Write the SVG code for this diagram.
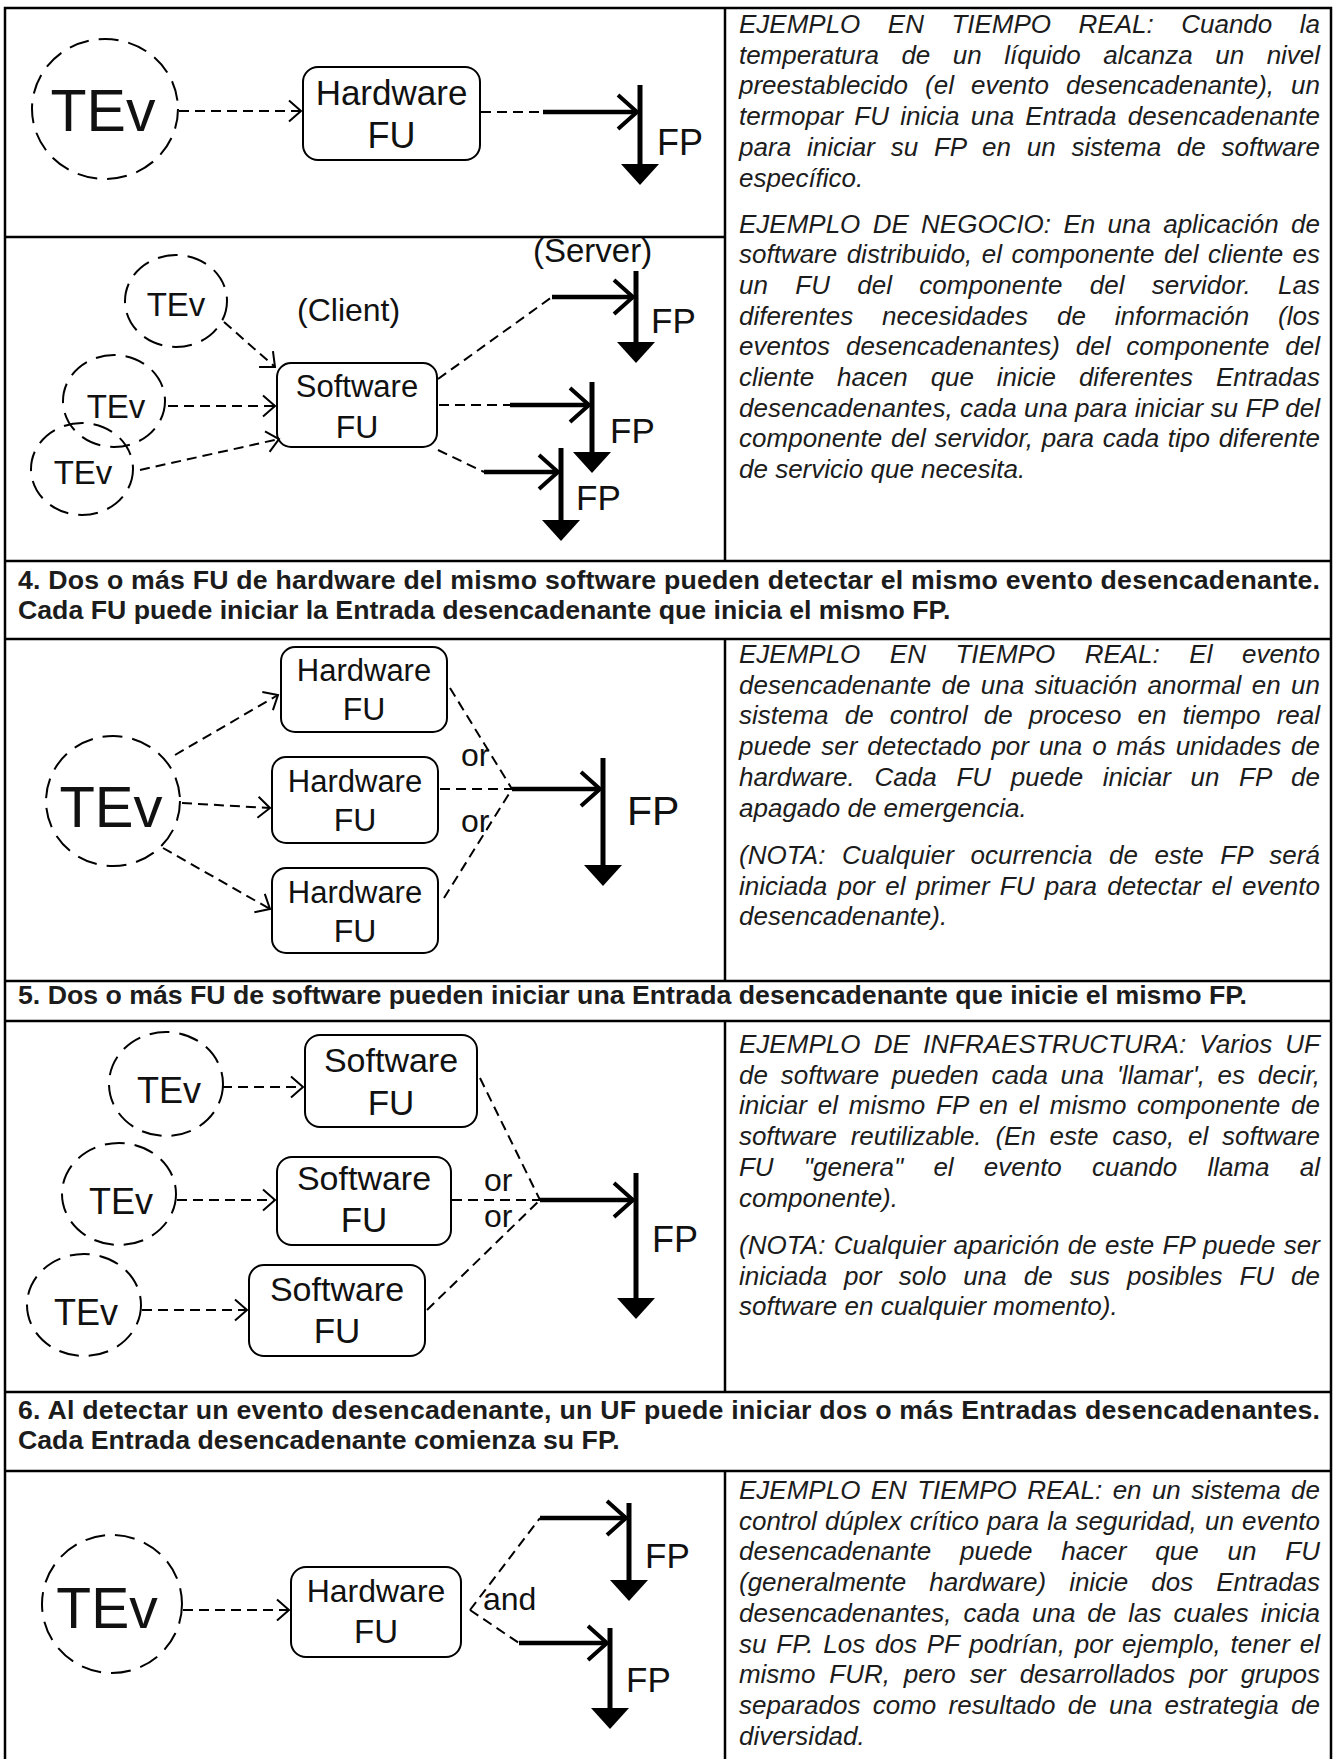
<svg xmlns="http://www.w3.org/2000/svg" width="1334" height="1759" viewBox="0 0 1334 1759">
<style>
  text { font-family: "Liberation Sans", Arial, sans-serif; }
  .frame { fill: none; stroke: #000; stroke-width: 2.5; }
  .para { font-size: 26px; font-style: italic; fill: #1c1c1c; }
  .head { font-size: 26.7px; font-weight: bold; fill: #1c1c1c; }
  .tev { fill: none; stroke: #000; stroke-width: 2; stroke-dasharray: 20 10; }
  .box { fill: #fff; stroke: #000; stroke-width: 2; }
  .lbl { fill: #111; text-anchor: middle; }
  .tag { fill: #111; }
  .dash { fill: none; stroke: #000; stroke-width: 2; stroke-dasharray: 10 6; }
  .arr { marker-end: url(#openHead); }
  .flow { fill: none; stroke: #000; stroke-width: 4.5; marker-end: url(#thickHead); }
  .bar { fill: none; stroke: #000; stroke-width: 5; marker-end: url(#fpTip); }
</style>
<defs>
  <marker id="openHead" markerUnits="userSpaceOnUse" viewBox="0 0 14 24" refX="13" refY="12" markerWidth="14" markerHeight="24" orient="auto" overflow="visible">
    <path d="M1,1.5 L13,12 L1,22.5" fill="none" stroke="#000" stroke-width="2"/>
  </marker>
  <marker id="thickHead" markerUnits="userSpaceOnUse" viewBox="0 0 24 40" refX="21" refY="20" markerWidth="24" markerHeight="40" orient="auto" overflow="visible">
    <path d="M2,3 L21,20 L2,37" fill="none" stroke="#000" stroke-width="4"/>
  </marker>
  <marker id="fpTip" markerUnits="userSpaceOnUse" viewBox="0 0 22 40" refX="0" refY="20" markerWidth="22" markerHeight="40" orient="auto" overflow="visible">
    <path d="M0,1 L21,20 L0,39 Z" fill="#000"/>
  </marker>
</defs>

<rect width="1334" height="1759" fill="#fff"/>

<!-- ===== Right-hand column: examples ===== -->
<g id="text-s1">
  <text class="para" x="739" y="33" word-spacing="20.3" textLength="581" lengthAdjust="spacing">EJEMPLO EN TIEMPO REAL: Cuando la</text>
  <text class="para" x="739" y="63.7" word-spacing="15.4" textLength="581" lengthAdjust="spacing">temperatura de un líquido alcanza un nivel</text>
  <text class="para" x="739" y="94.4" word-spacing="9.8" textLength="581" lengthAdjust="spacing">preestablecido (el evento desencadenante), un</text>
  <text class="para" x="739" y="125.1" word-spacing="4" textLength="581" lengthAdjust="spacing">termopar FU inicia una Entrada desencadenante</text>
  <text class="para" x="739" y="155.8" word-spacing="8.5" textLength="581" lengthAdjust="spacing">para iniciar su FP en un sistema de software</text>
  <text class="para" x="739" y="186.5">específico.</text>
  <text class="para" x="739" y="232.5" word-spacing="5.1" textLength="581" lengthAdjust="spacing">EJEMPLO DE NEGOCIO: En una aplicación de</text>
  <text class="para" x="739" y="263.2" word-spacing="2.2" textLength="581" lengthAdjust="spacing">software distribuido, el componente del cliente es</text>
  <text class="para" x="739" y="293.9" word-spacing="20" textLength="581" lengthAdjust="spacing">un FU del componente del servidor. Las</text>
  <text class="para" x="739" y="324.6" word-spacing="21.7" textLength="581" lengthAdjust="spacing">diferentes necesidades de información (los</text>
  <text class="para" x="739" y="355.3" word-spacing="8.7" textLength="581" lengthAdjust="spacing">eventos desencadenantes) del componente del</text>
  <text class="para" x="739" y="386" word-spacing="15.6" textLength="581" lengthAdjust="spacing">cliente hacen que inicie diferentes Entradas</text>
  <text class="para" x="739" y="416.7" textLength="581" lengthAdjust="spacing">desencadenantes, cada una para iniciar su FP del</text>
  <text class="para" x="739" y="447.4" word-spacing="1.5" textLength="581" lengthAdjust="spacing">componente del servidor, para cada tipo diferente</text>
  <text class="para" x="739" y="478.1">de servicio que necesita.</text>
</g>

<g id="text-s4">
  <text class="para" x="739" y="663" word-spacing="22.3" textLength="581" lengthAdjust="spacing">EJEMPLO EN TIEMPO REAL: El evento</text>
  <text class="para" x="739" y="693.7" word-spacing="3.2" textLength="581" lengthAdjust="spacing">desencadenante de una situación anormal en un</text>
  <text class="para" x="739" y="724.4" word-spacing="8.9" textLength="581" lengthAdjust="spacing">sistema de control de proceso en tiempo real</text>
  <text class="para" x="739" y="755.1" word-spacing="2.7" textLength="581" lengthAdjust="spacing">puede ser detectado por una o más unidades de</text>
  <text class="para" x="739" y="785.8" word-spacing="12.4" textLength="581" lengthAdjust="spacing">hardware. Cada FU puede iniciar un FP de</text>
  <text class="para" x="739" y="816.5">apagado de emergencia.</text>
  <text class="para" x="739" y="864" word-spacing="9.2" textLength="581" lengthAdjust="spacing">(NOTA: Cualquier ocurrencia de este FP será</text>
  <text class="para" x="739" y="894.7" word-spacing="3.1" textLength="581" lengthAdjust="spacing">iniciada por el primer FU para detectar el evento</text>
  <text class="para" x="739" y="925.4">desencadenante).</text>
</g>

<g id="text-s5">
  <text class="para" x="739" y="1053" word-spacing="5.9" textLength="581" lengthAdjust="spacing">EJEMPLO DE INFRAESTRUCTURA: Varios UF</text>
  <text class="para" x="739" y="1083.7" word-spacing="5.4" textLength="581" lengthAdjust="spacing">de software pueden cada una 'llamar', es decir,</text>
  <text class="para" x="739" y="1114.4" word-spacing="3.5" textLength="581" lengthAdjust="spacing">iniciar el mismo FP en el mismo componente de</text>
  <text class="para" x="739" y="1145.1" word-spacing="6.7" textLength="581" lengthAdjust="spacing">software reutilizable. (En este caso, el software</text>
  <text class="para" x="739" y="1175.8" word-spacing="23" textLength="581" lengthAdjust="spacing">FU "genera" el evento cuando llama al</text>
  <text class="para" x="739" y="1206.5">componente).</text>
  <text class="para" x="739" y="1254" word-spacing="0.9" textLength="581" lengthAdjust="spacing">(NOTA: Cualquier aparición de este FP puede ser</text>
  <text class="para" x="739" y="1284.7" word-spacing="9.8" textLength="581" lengthAdjust="spacing">iniciada por solo una de sus posibles FU de</text>
  <text class="para" x="739" y="1315.4">software en cualquier momento).</text>
</g>

<g id="text-s6">
  <text class="para" x="739" y="1499" word-spacing="3.1" textLength="581" lengthAdjust="spacing">EJEMPLO EN TIEMPO REAL: en un sistema de</text>
  <text class="para" x="739" y="1529.7" word-spacing="1" textLength="581" lengthAdjust="spacing">control dúplex crítico para la seguridad, un evento</text>
  <text class="para" x="739" y="1560.4" word-spacing="21.7" textLength="581" lengthAdjust="spacing">desencadenante puede hacer que un FU</text>
  <text class="para" x="739" y="1591.1" word-spacing="15.9" textLength="581" lengthAdjust="spacing">(generalmente hardware) inicie dos Entradas</text>
  <text class="para" x="739" y="1621.8" word-spacing="4.8" textLength="581" lengthAdjust="spacing">desencadenantes, cada una de las cuales inicia</text>
  <text class="para" x="739" y="1652.5" word-spacing="2.4" textLength="581" lengthAdjust="spacing">su FP. Los dos PF podrían, por ejemplo, tener el</text>
  <text class="para" x="739" y="1683.2" word-spacing="6.8" textLength="581" lengthAdjust="spacing">mismo FUR, pero ser desarrollados por grupos</text>
  <text class="para" x="739" y="1713.9" word-spacing="5" textLength="581" lengthAdjust="spacing">separados como resultado de una estrategia de</text>
  <text class="para" x="739" y="1744.6">diversidad.</text>
</g>

<!-- ===== Section headings ===== -->
<g id="heading-4">
  <text class="head" x="18" y="589" textLength="1302" lengthAdjust="spacing">4. Dos o más FU de hardware del mismo software pueden detectar el mismo evento desencadenante.</text>
  <text class="head" x="18" y="619">Cada FU puede iniciar la Entrada desencadenante que inicia el mismo FP.</text>
</g>
<g id="heading-5">
  <text class="head" x="18" y="1004">5. Dos o más FU de software pueden iniciar una Entrada desencadenante que inicie el mismo FP.</text>
</g>
<g id="heading-6">
  <text class="head" x="18" y="1419" textLength="1302" lengthAdjust="spacing">6. Al detectar un evento desencadenante, un UF puede iniciar dos o más Entradas desencadenantes.</text>
  <text class="head" x="18" y="1449">Cada Entrada desencadenante comienza su FP.</text>
</g>

<!-- ===== Panel 1a: hardware FU ===== -->
<g id="s1a-tev">
  <ellipse class="tev" cx="105" cy="109" rx="73" ry="70"/>
  <text class="lbl" x="103" y="131" font-size="59">TEv</text>
</g>
<g id="s1a-fu">
  <rect class="box" x="303" y="67" width="177" height="93" rx="15"/>
  <text class="lbl" x="391.5" y="105" font-size="35">Hardware</text>
  <text class="lbl" x="391.5" y="148" font-size="36">FU</text>
</g>
<g id="s1a-fp">
  <text class="tag" x="657" y="155" font-size="36">FP</text>
</g>

<!-- ===== Panel 1b: client / server ===== -->
<g id="s1b-labels">
  <text class="tag" x="533" y="262" font-size="33">(Server)</text>
  <text class="tag" x="297" y="321" font-size="32">(Client)</text>
</g>
<g id="s1b-tev-a">
  <ellipse class="tev" cx="176" cy="301" rx="51" ry="46"/>
  <text class="lbl" x="176" y="316" font-size="33">TEv</text>
</g>
<g id="s1b-tev-b">
  <ellipse class="tev" cx="114" cy="401" rx="51" ry="46"/>
  <text class="lbl" x="116" y="418" font-size="33">TEv</text>
</g>
<g id="s1b-tev-c">
  <ellipse class="tev" cx="82" cy="469" rx="51" ry="46"/>
  <text class="lbl" x="83" y="484" font-size="33">TEv</text>
</g>
<g id="s1b-fu">
  <rect class="box" x="277" y="363" width="160" height="84" rx="14"/>
  <text class="lbl" x="357" y="397" font-size="31">Software</text>
  <text class="lbl" x="357" y="438" font-size="32">FU</text>
</g>
<g id="s1b-fp">
  <text class="tag" x="651" y="333" font-size="35">FP</text>
  <text class="tag" x="610" y="443" font-size="35">FP</text>
  <text class="tag" x="576" y="510" font-size="35">FP</text>
</g>

<!-- ===== Panel 4: several hardware FUs ===== -->
<g id="s4-tev">
  <ellipse class="tev" cx="113" cy="801" rx="67" ry="65"/>
  <text class="lbl" x="111" y="827" font-size="58">TEv</text>
</g>
<g id="s4-fu1">
  <rect class="box" x="281" y="647" width="166" height="85" rx="14"/>
  <text class="lbl" x="364" y="681" font-size="31">Hardware</text>
  <text class="lbl" x="364" y="720" font-size="32">FU</text>
</g>
<g id="s4-fu2">
  <rect class="box" x="272" y="757" width="166" height="86" rx="14"/>
  <text class="lbl" x="355" y="792" font-size="31">Hardware</text>
  <text class="lbl" x="355" y="831" font-size="32">FU</text>
</g>
<g id="s4-fu3">
  <rect class="box" x="272" y="868" width="166" height="85" rx="14"/>
  <text class="lbl" x="355" y="903" font-size="31">Hardware</text>
  <text class="lbl" x="355" y="942" font-size="32">FU</text>
</g>
<g id="s4-labels">
  <text class="tag" x="461" y="766" font-size="32">or</text>
  <text class="tag" x="461" y="832" font-size="32">or</text>
  <text class="tag" x="627" y="825" font-size="41">FP</text>
</g>

<!-- ===== Panel 5: several software FUs ===== -->
<g id="s5-tev1">
  <ellipse class="tev" cx="166" cy="1084" rx="57" ry="52"/>
  <text class="lbl" x="169" y="1103" font-size="36">TEv</text>
</g>
<g id="s5-tev2">
  <ellipse class="tev" cx="119" cy="1194" rx="57" ry="51"/>
  <text class="lbl" x="121" y="1214" font-size="36">TEv</text>
</g>
<g id="s5-tev3">
  <ellipse class="tev" cx="84" cy="1305" rx="57" ry="51"/>
  <text class="lbl" x="86" y="1325" font-size="36">TEv</text>
</g>
<g id="s5-fu1">
  <rect class="box" x="305" y="1035" width="172" height="92" rx="15"/>
  <text class="lbl" x="391" y="1072" font-size="34">Software</text>
  <text class="lbl" x="391" y="1115" font-size="35">FU</text>
</g>
<g id="s5-fu2">
  <rect class="box" x="277" y="1157" width="174" height="88" rx="15"/>
  <text class="lbl" x="364" y="1190" font-size="34">Software</text>
  <text class="lbl" x="364" y="1232" font-size="35">FU</text>
</g>
<g id="s5-fu3">
  <rect class="box" x="249" y="1265" width="176" height="91" rx="15"/>
  <text class="lbl" x="337" y="1301" font-size="34">Software</text>
  <text class="lbl" x="337" y="1343" font-size="35">FU</text>
</g>
<g id="s5-labels">
  <text class="tag" x="484" y="1191" font-size="32">or</text>
  <text class="tag" x="484" y="1227" font-size="32">or</text>
  <text class="tag" x="652" y="1252" font-size="36">FP</text>
</g>

<!-- ===== Panel 6: one FU, two triggering entries ===== -->
<g id="s6-tev">
  <ellipse class="tev" cx="112" cy="1604" rx="70" ry="69"/>
  <text class="lbl" x="107" y="1628" font-size="57">TEv</text>
</g>
<g id="s6-fu">
  <rect class="box" x="291" y="1567" width="170" height="90" rx="15"/>
  <text class="lbl" x="376" y="1602" font-size="32">Hardware</text>
  <text class="lbl" x="376" y="1643" font-size="33">FU</text>
</g>
<g id="s6-labels">
  <text class="tag" x="483" y="1610" font-size="32">and</text>
  <text class="tag" x="645" y="1568" font-size="35">FP</text>
  <text class="tag" x="626" y="1692" font-size="35">FP</text>
</g>

<!-- ===== Connectors ===== -->
<g id="connectors">
  <!-- panel 1a -->
  <path class="dash arr" d="M179,111 L301,111"/>
  <path class="dash" d="M481,112 L543,112"/>
  <path class="flow" d="M543,112 L637,112"/>
  <path class="bar" d="M640,85 L640,164"/>
  <!-- panel 1b -->
  <path class="dash arr" d="M224,322 L275,367"/>
  <path class="dash arr" d="M168,406 L275,406"/>
  <path class="dash arr" d="M140,470 L279,439"/>
  <path class="dash" d="M438,379 L552,297"/>
  <path class="flow" d="M552,297 L633,297"/>
  <path class="bar" d="M636,271 L636,342"/>
  <path class="dash" d="M439,405 L510,405"/>
  <path class="flow" d="M510,405 L589,405"/>
  <path class="bar" d="M592,382 L592,452"/>
  <path class="dash" d="M438,450 L484,472"/>
  <path class="flow" d="M484,472 L558,472"/>
  <path class="bar" d="M561,448 L561,520"/>
  <!-- panel 4 -->
  <path class="dash arr" d="M175,755 L278,695"/>
  <path class="dash arr" d="M182,803 L270,808"/>
  <path class="dash arr" d="M163,848 L270,909"/>
  <path class="dash" d="M450,688 L512,789"/>
  <path class="dash" d="M440,789 L512,789"/>
  <path class="dash" d="M444,898 L512,789"/>
  <path class="flow" d="M512,789 L600,789"/>
  <path class="bar" d="M603,758 L603,865"/>
  <!-- panel 5 -->
  <path class="dash arr" d="M222,1087 L303,1087"/>
  <path class="dash arr" d="M177,1200 L275,1200"/>
  <path class="dash arr" d="M142,1310 L247,1310"/>
  <path class="dash" d="M480,1078 L540,1200"/>
  <path class="dash" d="M452,1200 L540,1200"/>
  <path class="dash" d="M427,1310 L540,1200"/>
  <path class="flow" d="M540,1200 L633,1200"/>
  <path class="bar" d="M636,1173 L636,1298"/>
  <!-- panel 6 -->
  <path class="dash arr" d="M183,1610 L289,1610"/>
  <path class="dash" d="M470,1610 L540,1518"/>
  <path class="dash" d="M470,1610 L519,1643"/>
  <path class="flow" d="M540,1518 L626,1518"/>
  <path class="bar" d="M629,1503 L629,1580"/>
  <path class="flow" d="M519,1643 L607,1643"/>
  <path class="bar" d="M610,1628 L610,1708"/>
</g>

<!-- ===== Table rules ===== -->
<g id="table">
  <path class="frame" d="M5,1759 V8 H1331 V1759"/>
  <path class="frame" d="M5,237 H725"/>
  <path class="frame" d="M5,561 H1331 M5,639 H1331"/>
  <path class="frame" d="M5,981 H1331 M5,1021 H1331"/>
  <path class="frame" d="M5,1392 H1331 M5,1471 H1331"/>
  <path class="frame" d="M725,8 V561 M725,639 V981 M725,1021 V1392 M725,1471 V1759"/>
</g>
</svg>
